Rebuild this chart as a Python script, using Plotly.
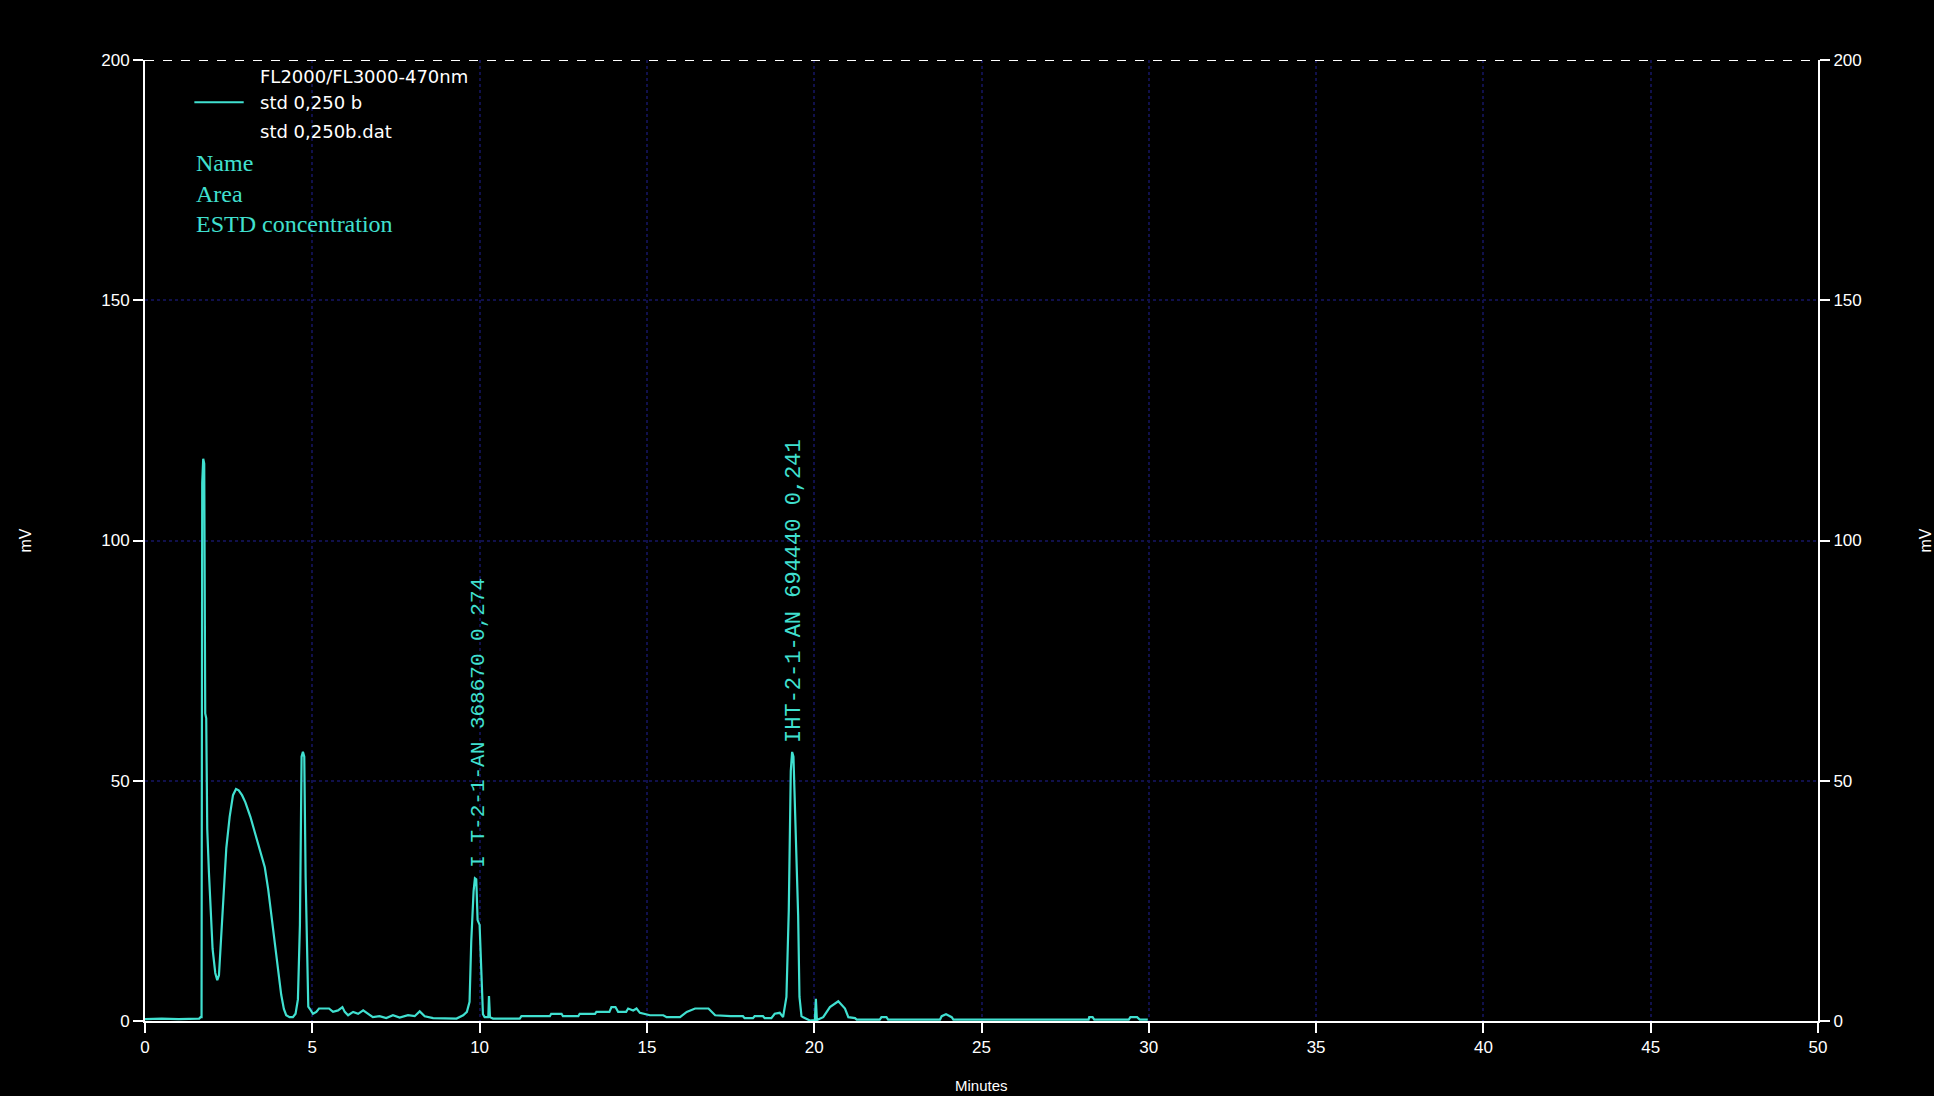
import plotly.graph_objects as go

# ---- data ----
minutes = [
    0.0, 0.5, 1.0, 1.5, 1.62, 1.66, 1.69,
    1.71, 1.74, 1.77, 1.80, 1.83, 1.86, 1.91, 1.96, 2.02, 2.10, 2.16, 2.21, 2.27, 2.33,
    2.43, 2.53, 2.63, 2.72, 2.80, 2.90, 3.00, 3.15, 3.30, 3.45, 3.58, 3.68, 3.78, 3.86,
    3.93, 4.00, 4.07, 4.15, 4.22, 4.32, 4.42, 4.50, 4.57, 4.63, 4.68, 4.72, 4.76, 4.80,
    4.84, 4.88, 4.92, 5.02, 5.12, 5.20, 5.50, 5.62, 5.77, 5.90, 5.97, 6.07, 6.22, 6.37,
    6.52, 6.67, 6.81, 7.01, 7.21, 7.41, 7.61, 7.86, 8.06, 8.21, 8.36, 8.61, 8.91, 9.31,
    9.51, 9.62, 9.70, 9.75, 9.82, 9.86, 9.90, 9.94, 10.00, 10.05, 10.10, 10.15, 10.26,
    10.28, 10.31, 10.40, 11.20, 11.25, 12.10, 12.14, 12.45, 12.49, 12.95, 12.99, 13.45,
    13.49, 13.88, 13.94, 14.06, 14.14, 14.38, 14.44, 14.59, 14.69, 14.79, 15.09, 15.49,
    15.59, 15.99, 16.19, 16.44, 16.84, 17.04, 17.50, 17.87, 17.92, 18.17, 18.22, 18.47,
    18.52, 18.72, 18.82, 18.97, 19.07, 19.17, 19.24, 19.30, 19.34, 19.38, 19.41, 19.45,
    19.52, 19.56, 19.62, 19.67, 19.87, 20.02, 20.05, 20.08, 20.27, 20.47, 20.72, 20.92,
    21.02, 21.22, 21.27, 21.96, 22.01, 22.16, 22.21, 23.76, 23.81, 23.94, 24.11, 24.16,
    28.20, 28.22, 28.32, 28.37, 29.40, 29.45, 29.65, 29.73, 29.97,
]
signal_mv = [
    0.4, 0.5, 0.4, 0.5, 0.5, 0.8, 0.8,
    112, 117, 116, 64, 63, 40, 31, 22, 15, 10, 8.5, 9.5, 17, 26,
    36, 42.5, 47, 48.3, 48, 47, 45.5, 42.5, 39, 35.5, 32, 27.5, 22, 17,
    13.5, 9, 5.5, 2.5, 1.2, 0.8, 0.8, 1.5, 4.5, 20, 55, 56, 55, 30,
    12, 3, 2.6, 1.5, 1.9, 2.6, 2.6, 1.9, 2.2, 2.9, 1.9, 1.2, 1.9, 1.5,
    2.2, 1.5, 0.8, 1.0, 0.6, 1.2, 0.7, 1.2, 1.0, 2.0, 1.0, 0.6, 0.5, 0.5,
    1.2, 1.9, 4, 16.5, 27, 29.7, 29.5, 21, 20, 9.7, 1.4, 0.8, 0.8,
    5.2, 0.8, 0.5, 0.5, 1.0, 1.0, 1.5, 1.5, 1.0, 1.0, 1.5, 1.5,
    1.9, 1.9, 2.9, 2.9, 1.9, 1.9, 2.6, 2.2, 2.6, 1.7, 1.2, 1.2,
    0.8, 0.8, 1.9, 2.6, 2.6, 1.2, 1.0, 1.0, 0.6, 0.6, 1.0, 1.0,
    0.6, 0.6, 1.5, 1.7, 0.8, 5, 23, 52, 56, 55, 48, 40,
    22, 5, 1, 0.8, 0.1, 0.2, 4.6, 0.2, 0.8, 2.9, 4.1, 2.6,
    0.8, 0.6, 0.3, 0.3, 0.8, 0.8, 0.3, 0.3, 1.0, 1.4, 0.8, 0.3,
    0.3, 0.8, 0.8, 0.3, 0.3, 0.8, 0.8, 0.3, 0.3,
]

peak_labels = ["I T-2-1-AN 368670 0,274", "IHT-2-1-AN 694440 0,241"]
peak_label_x = [9.97, 19.39]
peak_label_y = [31.4, 57.4]
peak_label_size = [21, 22]

x_ticks = [0, 5, 10, 15, 20, 25, 30, 35, 40, 45, 50]
y_ticks = [0, 50, 100, 150, 200]

detector = "FL2000/FL3000-470nm"
trace_name = "std 0,250 b"
file_name = "std 0,250b.dat"
info_rows = ["Name", "Area", "ESTD concentration"]

CYAN = "#40e0d0"
GRID = "#10104c"

fig = go.Figure()
fig.add_trace(go.Scatter(x=minutes, y=signal_mv, mode="lines", name=trace_name,
                         line=dict(color=CYAN, width=2.2), showlegend=False))
fig.add_trace(go.Scatter(x=minutes, y=signal_mv, mode="lines", yaxis="y2",
                         line=dict(color=CYAN, width=0), opacity=0,
                         showlegend=False, hoverinfo="skip"))

tickfont = dict(family="Liberation Sans", size=17, color="white")

fig.update_layout(
    width=1934, height=1096,
    paper_bgcolor="black", plot_bgcolor="black",
    margin=dict(l=145, r=116, t=60, b=75),
    xaxis=dict(range=[0, 50], tickvals=x_ticks, ticks="outside", ticklen=10,
               tickcolor="white", tickwidth=2, showline=True, linecolor="white",
               linewidth=2, showgrid=True, gridcolor=GRID, griddash="dot",
               gridwidth=2, zeroline=False, tickfont=tickfont),
    yaxis=dict(range=[0, 200], tickvals=y_ticks, ticks="outside", ticklen=10,
               tickcolor="white", tickwidth=2, showline=True, linecolor="white",
               linewidth=2, showgrid=True, gridcolor=GRID, griddash="dot",
               gridwidth=2, zeroline=False, tickfont=tickfont),
    yaxis2=dict(range=[0, 200], tickvals=y_ticks, overlaying="y", side="right",
                anchor="x", ticks="outside", ticklen=10, tickcolor="white",
                tickwidth=2, showline=True, linecolor="white", linewidth=2,
                showgrid=False, zeroline=False, tickfont=tickfont),
    showlegend=False,
)

# dashed top frame line at 200 mV
fig.add_shape(type="line", xref="x", yref="y", x0=x_ticks[0], x1=x_ticks[-1],
              y0=y_ticks[-1], y1=y_ticks[-1],
              line=dict(color="white", width=2, dash="dash"))

# axis titles
fig.add_annotation(text="Minutes", xref="paper", yref="paper", x=0.5, y=-0.078,
                   showarrow=False, font=dict(family="Liberation Sans", size=15, color="white"))
fig.add_annotation(text="mV", xref="paper", yref="paper", x=-0.078, y=0.5,
                   textangle=-90, showarrow=False,
                   font=dict(family="Liberation Sans", size=16, color="white"))
fig.add_annotation(text="mV", xref="paper", yref="paper", x=1.064, y=0.5,
                   textangle=-90, showarrow=False, xanchor="center",
                   font=dict(family="Liberation Sans", size=16, color="white"))

# legend-like header
legend_font = dict(family="DejaVu Sans", size=18, color="white")
fig.add_annotation(text=detector, xref="paper", yref="paper", x=0.0676, y=0.983,
                   xanchor="left", yanchor="middle", showarrow=False, font=legend_font)
fig.add_annotation(text=trace_name, xref="paper", yref="paper", x=0.0676, y=0.956,
                   xanchor="left", yanchor="middle", showarrow=False, font=legend_font)
fig.add_annotation(text=file_name, xref="paper", yref="paper", x=0.0676, y=0.926,
                   xanchor="left", yanchor="middle", showarrow=False, font=legend_font)
fig.add_shape(type="line", xref="paper", yref="paper", x0=0.0295, x1=0.059,
              y0=0.956, y1=0.956, line=dict(color=CYAN, width=2))
for i, row in enumerate(info_rows):
    fig.add_annotation(text=row, xref="paper", yref="paper", x=0.0295,
                       y=0.893 - i * 0.032, xanchor="left", yanchor="middle",
                       showarrow=False,
                       font=dict(family="Liberation Serif", size=24, color=CYAN))

# peak labels
for lbl, px, py, fs in zip(peak_labels, peak_label_x, peak_label_y, peak_label_size):
    fig.add_annotation(text=lbl, x=px, y=py, xref="x", yref="y", textangle=-90,
                       xanchor="center", yanchor="bottom", showarrow=False,
                       font=dict(family="Liberation Mono", size=fs, color=CYAN))

fig.write_html("out.html",
               config={"displayModeBar": False},
               post_script="document.body.style.margin='0';"
                           "document.body.style.background='black';")
